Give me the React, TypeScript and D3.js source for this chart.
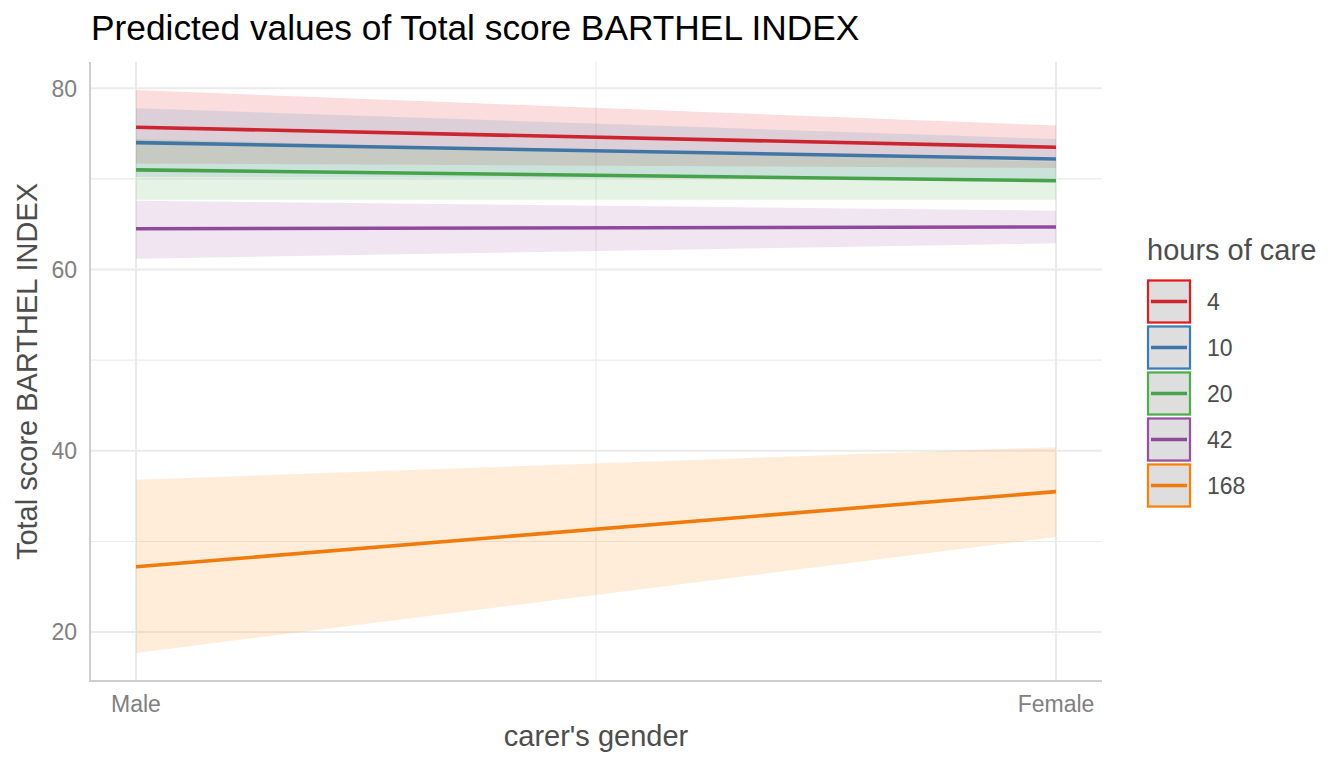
import { useEffect } from "react";
import { scaleLinear, line, area } from "d3";

// hours of care groups
const hours = ["4", "10", "20", "42", "168"];
const colors = ["#E41A1C", "#377EB8", "#4DAF4A", "#984EA3", "#FF7F00"];
const lineColors = ["#cc2530", "#3f76a6", "#46a349", "#8f4a9c", "#f07a0a"];

const genders = ["Male", "Female"];

// predicted values and confidence bands, [Male, Female]
const predicted = [
  [75.7, 73.5],
  [74.0, 72.2],
  [71.0, 69.8],
  [64.5, 64.7],
  [27.2, 35.5],
];
const lower = [
  [71.7, 71.2],
  [70.2, 70.0],
  [67.7, 67.7],
  [61.2, 62.9],
  [17.7, 30.5],
];
const upper = [
  [79.8, 75.9],
  [77.8, 74.4],
  [74.4, 71.9],
  [67.6, 66.5],
  [36.8, 40.4],
];

const yMajor = [20, 40, 60, 80];
const yMinor = [30, 50, 70];

const FONT = "'Liberation Sans', Arial, sans-serif";

export default function App() {
  useEffect(() => {
    document.body.style.margin = "0";
  }, []);

  const W = 1344;
  const H = 768;
  const panel = { left: 90, right: 1102, top: 62, bottom: 681 };

  const x = scaleLinear().domain([-0.05, 1.05]).range([panel.left, panel.right]);
  const y = scaleLinear().domain([14.6, 82.9]).range([panel.bottom, panel.top]);

  const lineFn = line<number>()
    .x((_, i) => x(i))
    .y((d) => y(d));

  const bandFn = (k: number) =>
    area<number>()
      .x((_, i) => x(i))
      .y0((_, i) => y(lower[k][i]))
      .y1((d) => y(d))(upper[k]);

  const keySize = 44;
  const keyTop = 279.5;
  const keyStep = 46;
  const keyLeft = 1147;

  return (
    <svg width={W} height={H} style={{ display: "block", background: "#fff" }} fontFamily={FONT}>
      {/* grid */}
      {yMinor.map((v) => (
        <line key={"ym" + v} x1={panel.left} x2={panel.right} y1={y(v)} y2={y(v)} stroke="#ebebeb" strokeWidth={1.1} />
      ))}
      <line x1={x(0.5)} x2={x(0.5)} y1={panel.top} y2={panel.bottom} stroke="#ebebeb" strokeWidth={1.1} />
      {yMajor.map((v) => (
        <line key={"yM" + v} x1={panel.left} x2={panel.right} y1={y(v)} y2={y(v)} stroke="#ebebeb" strokeWidth={2.1} />
      ))}
      {genders.map((g, i) => (
        <line key={"xg" + g} x1={x(i)} x2={x(i)} y1={panel.top} y2={panel.bottom} stroke="#ebebeb" strokeWidth={2.1} />
      ))}

      {/* confidence bands */}
      {hours.map((h, k) => (
        <path key={"band" + h} d={bandFn(k) ?? ""} fill={colors[k]} fillOpacity={0.15} />
      ))}

      {/* prediction lines */}
      {hours.map((h, k) => (
        <path
          key={"line" + h}
          d={lineFn(predicted[k]) ?? ""}
          fill="none"
          stroke={lineColors[k]}
          strokeWidth={3.6}
        />
      ))}

      {/* axes */}
      <line x1={panel.left} x2={panel.left} y1={panel.top} y2={panel.bottom + 1} stroke="#cfcfcf" strokeWidth={2} />
      <line x1={panel.left} x2={panel.right} y1={panel.bottom} y2={panel.bottom} stroke="#cfcfcf" strokeWidth={2} />

      {yMajor.map((v) => (
        <text key={"yt" + v} x={77} y={y(v)} dy="0.36em" textAnchor="end" fontSize={23} fill="#808080">
          {v}
        </text>
      ))}
      {genders.map((g, i) => (
        <text key={"xt" + g} x={x(i)} y={712} textAnchor="middle" fontSize={23} fill="#808080">
          {g}
        </text>
      ))}

      {/* titles */}
      <text x={91} y={40} fontSize={35.3} fill="#000">
        Predicted values of Total score BARTHEL INDEX
      </text>
      <text x={(panel.left + panel.right) / 2} y={746} textAnchor="middle" fontSize={29} fill="#4d4d4d">
        carer's gender
      </text>
      <text
        transform={`translate(37,${(panel.top + panel.bottom) / 2}) rotate(-90)`}
        textAnchor="middle"
        fontSize={29}
        fill="#4d4d4d"
      >
        Total score BARTHEL INDEX
      </text>

      {/* legend */}
      <text x={keyLeft} y={260} fontSize={29} fill="#4d4d4d">
        hours of care
      </text>
      {hours.map((h, k) => {
        const top = keyTop + k * keyStep;
        return (
          <g key={"lg" + h}>
            <rect x={keyLeft} y={top} width={keySize} height={keySize} fill="#dedede" />
            <rect
              x={keyLeft + 1}
              y={top + 1}
              width={keySize - 2}
              height={keySize - 2}
              fill="none"
              stroke={colors[k]}
              strokeWidth={2.2}
            />
            <line
              x1={keyLeft + 4}
              x2={keyLeft + keySize - 4}
              y1={top + keySize / 2}
              y2={top + keySize / 2}
              stroke={lineColors[k]}
              strokeWidth={3.4}
            />
            <text x={1207} y={top + keySize / 2} dy="0.36em" fontSize={23} fill="#4d4d4d">
              {h}
            </text>
          </g>
        );
      })}
    </svg>
  );
}
